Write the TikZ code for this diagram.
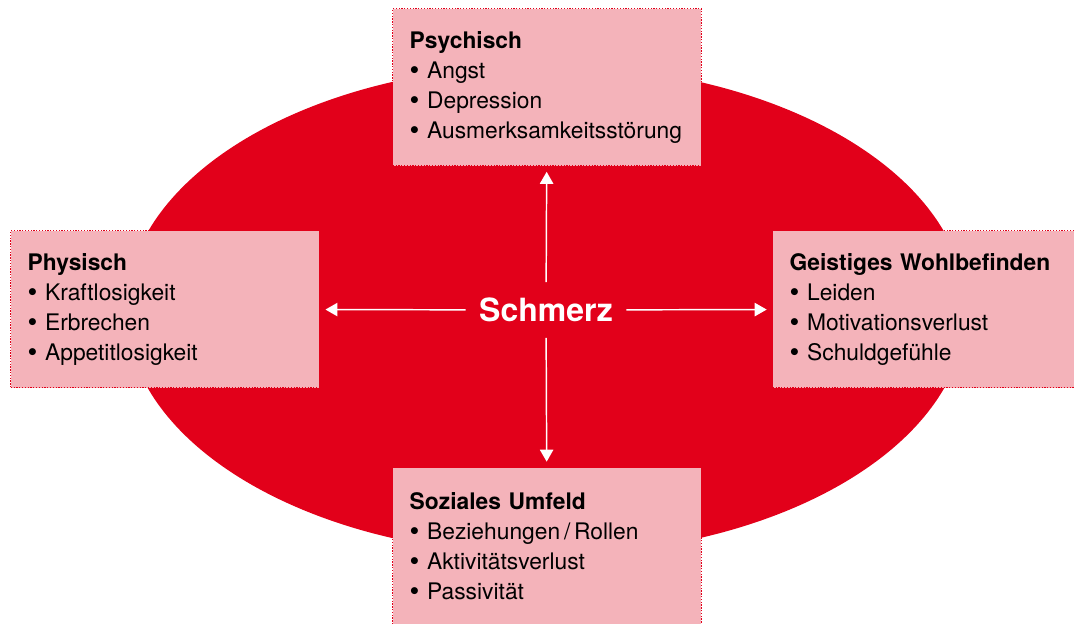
\documentclass[tikz,border=0pt]{standalone}
\usepackage{fontspec}
\setmainfont{TeX Gyre Heros}
\usetikzlibrary{arrows.meta,positioning}
\definecolor{painred}{HTML}{E2001A}
\definecolor{boxpink}{HTML}{F4B3BA}
\newcommand{\itm}{{\bfseries\fontsize{21}{22.5}\selectfont•}~}
\tikzset{
  area/.style={draw=painred,dash pattern=on 1pt off 1.1pt,line width=1.1pt,
    fill=boxpink,anchor=north west,text width=206pt,inner xsep=12.75pt,
    inner ysep=0pt,minimum height=117.75pt,align=left,
    font=\fontsize{17.1}{22.5}\selectfont},
  link/.style={white,line width=1.1pt,shorten >=4pt,
    -{Triangle[length=9pt,width=10pt]}}
}
\begin{document}
\begin{tikzpicture}[x=0.75pt,y=-0.75pt]
  \useasboundingbox (0,0) rectangle (1074,624);
  \fill[painred](546,310)ellipse[x radius=420,y radius=245];
  \node[area](psy) at (392,8){\textbf{Psychisch}\\\itm Angst\\\itm Depression\\\itm Ausmerksamkeitsstörung};
  \node[area](phys) at (10,230){\textbf{Physisch}\\\itm Kraftlosigkeit\\\itm Erbrechen\\\itm Appetitlosigkeit};
  \node[area](mind) at (772,230){\textbf{Geistiges Wohlbefinden}\\\itm Leiden\\\itm Motivationsverlust\\\itm Schuldgefühle};
  \node[area](soc) at (392,467){\textbf{Soziales Umfeld}\\\itm Beziehungen\,/\,Rollen\\\itm Aktivitätsverlust\\\itm Passivität};
  \node[minimum width=120pt,minimum height=41.25pt,inner sep=0pt,text=white,
    font=\bfseries\fontsize{24}{28}\selectfont](pain) at (546,310){Schmerz};
  \draw[link](pain)--(psy);
  \draw[link](pain)--(phys);
  \draw[link](pain)--(mind);
  \draw[link](pain)--(soc);
\end{tikzpicture}
\end{document}
